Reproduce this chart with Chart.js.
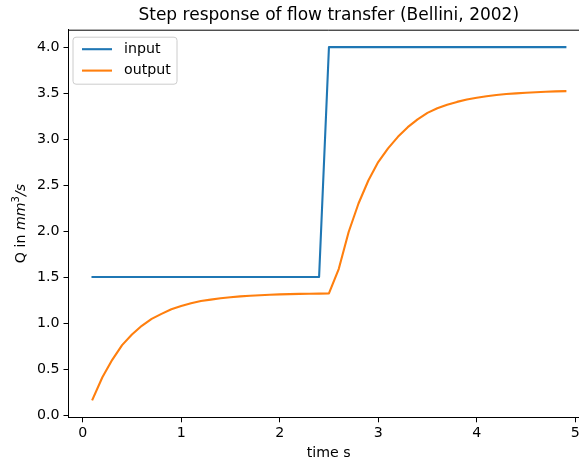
<!DOCTYPE html>
<html lang="en">
<head>
<meta charset="UTF-8" />
<title>Step response of flow transfer (Bellini, 2002)</title>
<script src="https://cdn.jsdelivr.net/npm/chart.js@4.4.1/dist/chart.umd.min.js"></script>
<style>
  html, body { margin: 0; padding: 0; background: #fff; overflow: hidden; }
  #wrap { position: absolute; left: 0; top: 0; width: 579px; height: 464px; overflow: hidden; }
  #chart { display: block; }
</style>
</head>
<body>
<div id="wrap"><canvas id="chart" width="640" height="464"></canvas></div>
<script>
// time axis (s)
const time = [0.1, 0.2, 0.3, 0.4, 0.5, 0.6, 0.7, 0.8, 0.9, 1.0,
              1.1, 1.2, 1.3, 1.4, 1.5, 1.6, 1.7, 1.8, 1.9, 2.0,
              2.1, 2.2, 2.3, 2.4, 2.5, 2.6, 2.7, 2.8, 2.9, 3.0,
              3.1, 3.2, 3.3, 3.4, 3.5, 3.6, 3.7, 3.8, 3.9, 4.0,
              4.1, 4.2, 4.3, 4.4, 4.5, 4.6, 4.7, 4.8, 4.9];

// input flow (mm^3/s)
const input = [1.5, 1.5, 1.5, 1.5, 1.5, 1.5, 1.5, 1.5, 1.5, 1.5,
               1.5, 1.5, 1.5, 1.5, 1.5, 1.5, 1.5, 1.5, 1.5, 1.5,
               1.5, 1.5, 1.5, 1.5, 4.0, 4.0, 4.0, 4.0, 4.0, 4.0,
               4.0, 4.0, 4.0, 4.0, 4.0, 4.0, 4.0, 4.0, 4.0, 4.0,
               4.0, 4.0, 4.0, 4.0, 4.0, 4.0, 4.0, 4.0, 4.0];

// output flow (mm^3/s)
const output = [0.17, 0.41, 0.60, 0.76, 0.875, 0.97, 1.045, 1.10, 1.15, 1.185,
                1.215, 1.24, 1.255, 1.27, 1.28, 1.29, 1.297, 1.303, 1.308, 1.312,
                1.315, 1.317, 1.319, 1.32, 1.322, 1.59, 1.99, 2.30, 2.55, 2.75,
                2.90, 3.025, 3.13, 3.215, 3.285, 3.335, 3.375, 3.405, 3.43, 3.45,
                3.467, 3.48, 3.49, 3.498, 3.505, 3.51, 3.515, 3.519, 3.522];

const xTicks = [0, 1, 2, 3, 4, 5];
const yTicks = [0, 0.5, 1.0, 1.5, 2.0, 2.5, 3.0, 3.5, 4.0];

const FONT = "'DejaVu Sans', sans-serif";
const BLUE = '#1f77b4';
const ORANGE = '#ff7f0e';

function pts(ys) {
    return time.map((t, i) => ({ x: t, y: ys[i] }));
}

// top spine (the right one falls outside the cropped picture)
const framePlugin = {
    id: 'frame',
    afterDraw(chart) {
        const a = chart.chartArea, ctx = chart.ctx;
        ctx.save();
        ctx.strokeStyle = '#000';
        ctx.lineWidth = 1;
        ctx.beginPath();
        ctx.moveTo(a.left, a.top + 0.5);
        ctx.lineTo(a.right, a.top + 0.5);
        ctx.stroke();
        ctx.restore();
    }
};

// matplotlib-like legend box inside the axes, upper left
const boxLegend = {
    id: 'boxLegend',
    afterDraw(chart) {
        const a = chart.chartArea, ctx = chart.ctx;
        const x0 = a.left + 4.5, y0 = a.top + 7.5, w = 104, h = 47, r = 3;
        ctx.save();
        ctx.beginPath();
        ctx.roundRect(x0, y0, w, h, r);
        ctx.fillStyle = 'rgba(255,255,255,0.8)';
        ctx.fill();
        ctx.strokeStyle = '#cccccc';
        ctx.lineWidth = 1;
        ctx.stroke();
        ctx.font = '14.2px ' + FONT;
        ctx.textBaseline = 'middle';
        ctx.fillStyle = '#000';
        chart.data.datasets.forEach((ds, i) => {
            const y = y0 + 12 + i * 21.4;
            ctx.strokeStyle = ds.borderColor;
            ctx.lineWidth = 2.1;
            ctx.beginPath();
            ctx.moveTo(x0 + 9, y);
            ctx.lineTo(x0 + 39, y);
            ctx.stroke();
            ctx.fillText(ds.label, x0 + 51, y);
        });
        ctx.restore();
    }
};

// y axis label with mathtext style part
const yLabel = {
    id: 'yLabel',
    afterDraw(chart) {
        const a = chart.chartArea, ctx = chart.ctx;
        const parts = [
            { t: 'Q in ', f: '14.2px ' + FONT, dy: 0 },
            { t: 'mm', f: 'italic 14.2px ' + FONT, dy: 0 },
            { t: '3', f: '10px ' + FONT, dy: -6 },
            { t: '/s', f: 'italic 14.2px ' + FONT, dy: 0 }
        ];
        ctx.save();
        let total = 0;
        parts.forEach(p => { ctx.font = p.f; p.w = ctx.measureText(p.t).width; total += p.w; });
        ctx.translate(20, (a.top + a.bottom) / 2);
        ctx.rotate(-Math.PI / 2);
        ctx.fillStyle = '#000';
        ctx.textBaseline = 'alphabetic';
        let x = -total / 2;
        parts.forEach(p => {
            ctx.font = p.f;
            ctx.fillText(p.t, x, 5 + p.dy);
            x += p.w;
        });
        ctx.restore();
    }
};

const tickFont = { family: FONT, size: 14.2 };

new Chart(document.getElementById('chart'), {
    type: 'line',
    data: {
        datasets: [
            { label: 'input', data: pts(input), borderColor: BLUE, backgroundColor: BLUE,
              borderWidth: 2.1, pointRadius: 0, tension: 0, fill: false,
              borderJoinStyle: 'round', borderCapStyle: 'square' },
            { label: 'output', data: pts(output), borderColor: ORANGE, backgroundColor: ORANGE,
              borderWidth: 2.1, pointRadius: 0, tension: 0, fill: false,
              borderJoinStyle: 'round', borderCapStyle: 'square' }
        ]
    },
    options: {
        responsive: false,
        animation: false,
        events: [],
        layout: { padding: { left: 0, right: 51, top: 0, bottom: 0 } },
        plugins: {
            legend: { display: false },
            tooltip: { enabled: false },
            title: {
                display: true,
                text: 'Step response of flow transfer (Bellini, 2002)',
                fullSize: false,
                color: '#000',
                font: { family: FONT, size: 17, weight: 'normal' },
                padding: { top: 5, bottom: 4.3 }
            }
        },
        scales: {
            x: {
                type: 'linear',
                min: -0.144,
                max: 5.14,
                afterBuildTicks: ax => { ax.ticks = xTicks.map(v => ({ value: v })); },
                afterFit: ax => { ax.height = 46.7; },
                ticks: { color: '#000', font: tickFont, padding: 3, maxRotation: 0,
                         callback: v => String(v) },
                grid: { drawOnChartArea: false, color: '#000', tickLength: 5, lineWidth: 1 },
                border: { color: '#000', width: 1 },
                title: { display: true, text: 'time s', color: '#000', font: tickFont,
                         padding: { top: 0, bottom: 2 } }
            },
            y: {
                type: 'linear',
                min: -0.025,
                max: 4.19,
                afterBuildTicks: ax => { ax.ticks = yTicks.map(v => ({ value: v })); },
                afterFit: ax => { ax.width = 68.5; },
                ticks: { color: '#000', font: tickFont, padding: 4,
                         callback: v => v.toFixed(1) },
                grid: { drawOnChartArea: false, color: '#000', tickLength: 5, lineWidth: 1 },
                border: { color: '#000', width: 1 }
            }
        }
    },
    plugins: [framePlugin, boxLegend, yLabel]
});
</script>
</body>
</html>
